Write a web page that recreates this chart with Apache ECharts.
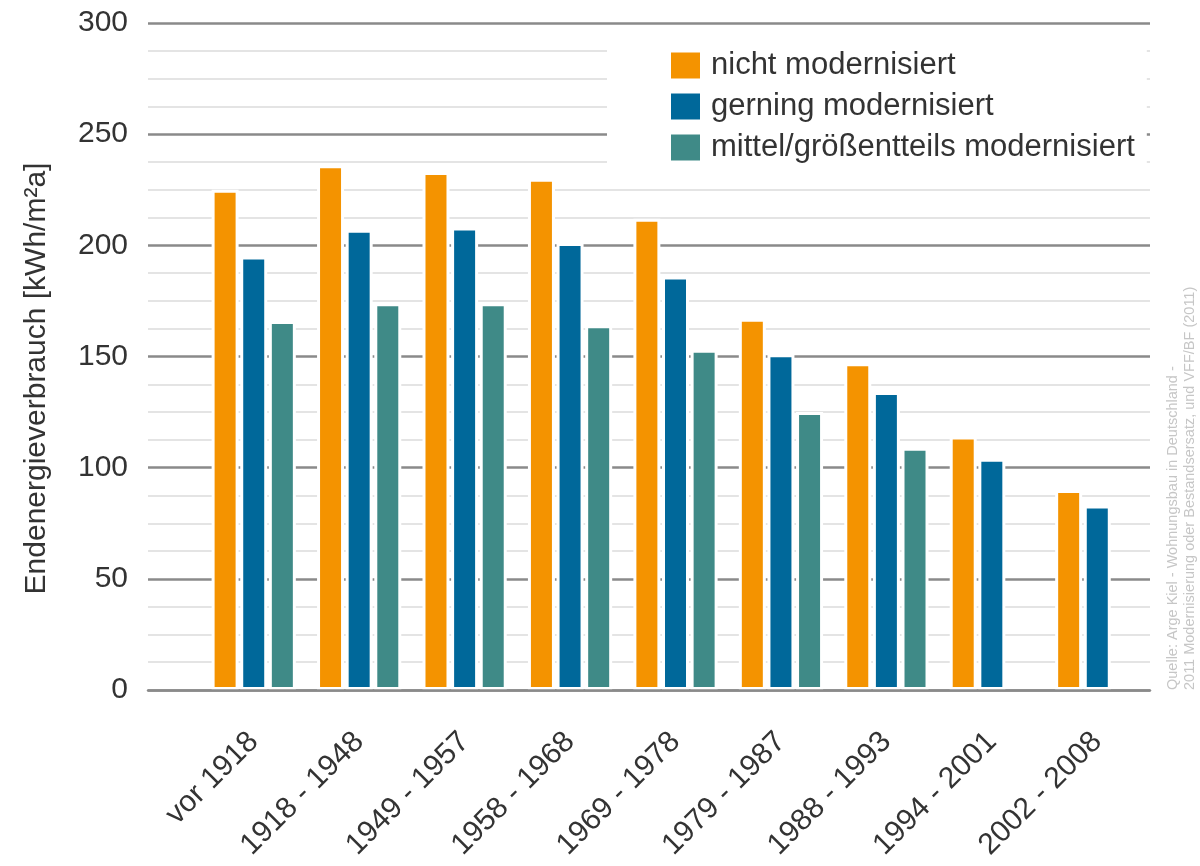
<!DOCTYPE html>
<html>
<head>
<meta charset="utf-8">
<title>Endenergieverbrauch nach Baualtersklassen</title>
<script src="https://cdn.jsdelivr.net/npm/echarts@6/dist/echarts.min.js"></script>
<style>
  html, body { margin: 0; padding: 0; background: #ffffff; }
  #chart { width: 1200px; height: 866px; }
</style>
</head>
<body>
<div id="chart"></div>
<script>
// Baualtersklassen (x axis)
var categories = ['vor 1918', '1918 - 1948', '1949 - 1957', '1958 - 1968', '1969 - 1978',
                  '1979 - 1987', '1988 - 1993', '1994 - 2001', '2002 - 2008'];

// Endenergieverbrauch in kWh/m²a per modernisation level
var nichtModernisiert = [225, 236, 233, 230, 212, 167, 147, 114, 90];
var geringModernisiert = [195, 207, 208, 201, 186, 151, 134, 104, 83];
var mittelModernisiert = [166, 174, 174, 164, 153, 125, 109, null, null];

var seriesNames = ['nicht modernisiert', 'gerning modernisiert', 'mittel/größentteils modernisiert'];
var seriesColors = ['#f49300', '#00689a', '#3f8a87'];

var yTicks = { min: 0, max: 300, interval: 50, minorSplit: 4 };

var sourceLines = [
  'Quelle: Arge Kiel - Wohnungsbau in Deutschland -',
  '2011 Modernisierung oder Bestandsersatz, und VFF/BF (2011)'
];

var FONT = '"Liberation Sans", Arial, sans-serif';
var TEXT = '#333333';

var chart = echarts.init(document.getElementById('chart'), null, { renderer: 'canvas' });

function barSeries(i, data) {
  return {
    name: seriesNames[i],
    type: 'bar',
    xAxisIndex: 1,
    yAxisIndex: 1,
    data: data,
    barWidth: 27,
    barGap: '6%',
    itemStyle: { color: seriesColors[i], borderColor: '#ffffff', borderWidth: 3 },
    emphasis: { disabled: true }
  };
}

chart.setOption({
  animation: false,
  backgroundColor: '#ffffff',
  textStyle: { fontFamily: FONT },
  grid: [
    // full-width grid carrying the horizontal rules and the value labels
    { left: 148, right: 50, top: 23, bottom: 176, outerBoundsMode: 'none', containLabel: false },
    // narrower grid holding the bar groups
    { left: 201, right: 50, top: 23, bottom: 176, outerBoundsMode: 'none', containLabel: false }
  ],
  xAxis: [
    {
      gridIndex: 0, type: 'value', min: 0, max: 1, z: 10,
      axisLine: { show: true, lineStyle: { color: '#8a8a8a', width: 2.5 } },
      axisTick: { show: false }, axisLabel: { show: false }, splitLine: { show: false }
    },
    {
      gridIndex: 1, type: 'category', data: categories,
      axisLine: { show: false }, axisTick: { show: false },
      axisLabel: { rotate: 45, margin: 47, fontSize: 30, color: TEXT, fontFamily: FONT, interval: 0 }
    }
  ],
  yAxis: [
    {
      gridIndex: 0, type: 'value', min: yTicks.min, max: yTicks.max, interval: yTicks.interval,
      name: 'Endenergieverbrauch [kWh/m²a]',
      nameLocation: 'middle', nameGap: 96, nameRotate: 90,
      nameTextStyle: { fontSize: 30, color: TEXT, fontFamily: FONT, padding: [0, 44, 0, 0] },
      axisLine: { show: false }, axisTick: { show: false },
      axisLabel: { fontSize: 30, color: TEXT, margin: 20, fontFamily: FONT },
      splitLine: { show: true, lineStyle: { color: '#8a8a8a', width: 2.5 } },
      minorTick: { show: false, splitNumber: yTicks.minorSplit },
      minorSplitLine: { show: true, lineStyle: { color: '#dcdcdc', width: 1.5 } }
    },
    {
      gridIndex: 1, type: 'value', min: yTicks.min, max: yTicks.max, interval: yTicks.interval,
      show: false, splitLine: { show: false }
    }
  ],
  legend: {
    data: seriesNames,
    orient: 'vertical',
    left: 607, top: 30,
    padding: [20, 12, 15, 62],
    backgroundColor: '#ffffff',
    icon: 'rect',
    itemWidth: 31, itemHeight: 28, itemGap: 10,
    selectedMode: false,
    textStyle: { fontSize: 31, color: TEXT, fontFamily: FONT, padding: [0, 0, 0, 5] }
  },
  series: [
    barSeries(0, nichtModernisiert),
    barSeries(1, geringModernisiert),
    barSeries(2, mittelModernisiert)
  ],
  graphic: sourceLines.map(function (line, i) {
    return {
      type: 'text',
      x: 1173 + i * 17, y: 690,
      rotation: Math.PI / 2,
      silent: true,
      style: {
        text: line, fill: '#c6c6c6', font: '14.5px ' + FONT,
        textAlign: 'left', textVerticalAlign: 'middle'
      }
    };
  })
});
</script>
</body>
</html>
